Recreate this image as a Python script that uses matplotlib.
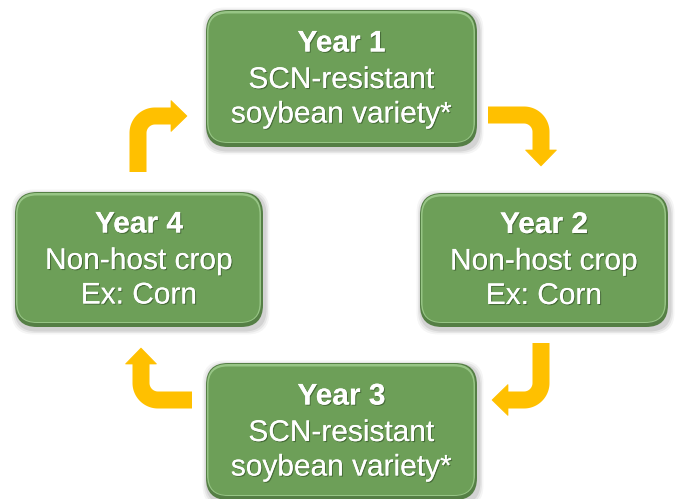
import numpy as np
import matplotlib
matplotlib.use("Agg")
import matplotlib.pyplot as plt
from matplotlib.patches import FancyBboxPatch, Polygon
import matplotlib.patheffects as pe

# ---- content ----
titles = ["Year 1", "Year 2", "Year 3", "Year 4"]
line2 = ["SCN-resistant", "Non-host crop", "SCN-resistant", "Non-host crop"]
line3 = ["soybean variety*", "Ex: Corn", "soybean variety*", "Ex: Corn"]

# ---- layout (pixel coordinates, y downward) ----
box_left = [206, 420, 206, 15]
box_top = [10, 193, 363, 192]
box_w = [271, 248, 271, 248]
box_h = [137, 134, 137, 135]

GREEN = "#6d9f58"
GREEN_DARK = "#557f45"
GREEN_LIGHT = "#97c585"
GOLD = "#ffc000"

W, H = 675, 499
fig = plt.figure(figsize=(W / 100, H / 100), dpi=100)
ax = fig.add_axes([0, 0, 1, 1])
ax.set_xlim(0, W)
ax.set_ylim(H, 0)
ax.axis("off")

R = 22
FS = 21.5
for i in range(4):
    x0, y0, w, h = box_left[i], box_top[i], box_w[i], box_h[i]
    for k, a in [(5, 0.04), (3.5, 0.06), (2, 0.08)]:
        ax.add_patch(FancyBboxPatch((x0 + 1.5, y0 + 2.5), w, h,
                                    boxstyle=f"round,pad={k},rounding_size={R}",
                                    fc="black", ec="none", alpha=a, zorder=1))
    ax.add_patch(FancyBboxPatch((x0, y0), w, h,
                                boxstyle=f"round,pad=0,rounding_size={R}",
                                fc=GREEN_DARK, ec="none", zorder=2))
    ax.add_patch(FancyBboxPatch((x0 + 1, y0 + 1), w - 3, h - 5,
                                boxstyle=f"round,pad=0,rounding_size={R-1}",
                                fc=GREEN_LIGHT, ec="none", zorder=3))
    ax.add_patch(FancyBboxPatch((x0 + 2.5, y0 + 3.5), w - 6, h - 8.5,
                                boxstyle=f"round,pad=0,rounding_size={R-3}",
                                fc=GREEN, ec="none", zorder=4))
    cx = x0 + w / 2
    cy = y0 + h / 2
    eff = [pe.withSimplePatchShadow(offset=(0.8, -0.8), shadow_rgbFace="#2f4a25", alpha=0.6), pe.Normal()]
    ax.text(cx, cy - 35, titles[i], ha="center", va="center", fontsize=FS,
            fontweight="bold", color="white", family="Liberation Sans", zorder=6, path_effects=eff)
    ax.text(cx, cy + 1.5, line2[i], ha="center", va="center", fontsize=FS,
            color="white", family="Liberation Sans", zorder=6, path_effects=eff)
    ax.text(cx, cy + 36, line3[i], ha="center", va="center", fontsize=FS,
            color="white", family="Liberation Sans", zorder=6, path_effects=eff)

# ---- bent arrows ----
def bent_arrow(start, corner, end, r, width_px, head_len, head_w):
    s = np.array(start, float); c = np.array(corner, float); e = np.array(end, float)
    d1 = (c - s) / np.linalg.norm(c - s)
    d2 = (e - c) / np.linalg.norm(e - c)
    p1 = c - d1 * r
    p2 = c + d2 * r
    ctr = c - d1 * r + d2 * r
    a1 = np.arctan2(*(p1 - ctr)[::-1])
    a2 = np.arctan2(*(p2 - ctr)[::-1])
    da = (a2 - a1 + np.pi) % (2 * np.pi) - np.pi
    ang = np.linspace(a1, a1 + da, 30)
    arc = np.c_[ctr[0] + r * np.cos(ang), ctr[1] + r * np.sin(ang)]
    base = e - d2 * head_len
    pts = np.vstack([s, arc, base])
    lw = width_px * 72 / 100
    ax.plot(pts[:, 0], pts[:, 1], color=GOLD, lw=lw, solid_capstyle="butt",
            solid_joinstyle="round", zorder=5)
    nrm = np.array([-d2[1], d2[0]])
    tri = [base + nrm * head_w / 2, base - nrm * head_w / 2, e]
    ax.add_patch(Polygon(tri, closed=True, fc=GOLD, ec=GOLD, lw=0.5, zorder=5))

bent_arrow((488, 115), (541, 115), (541, 166), 17, 17, 16, 31)
bent_arrow((541, 343), (541, 400), (492, 400), 17, 17, 16, 31)
bent_arrow((192, 400), (141, 400), (141, 348), 17, 17, 16, 31)
bent_arrow((138, 172), (138, 116), (187, 116), 17, 17, 16, 31)

fig.savefig("out.png", dpi=100)
